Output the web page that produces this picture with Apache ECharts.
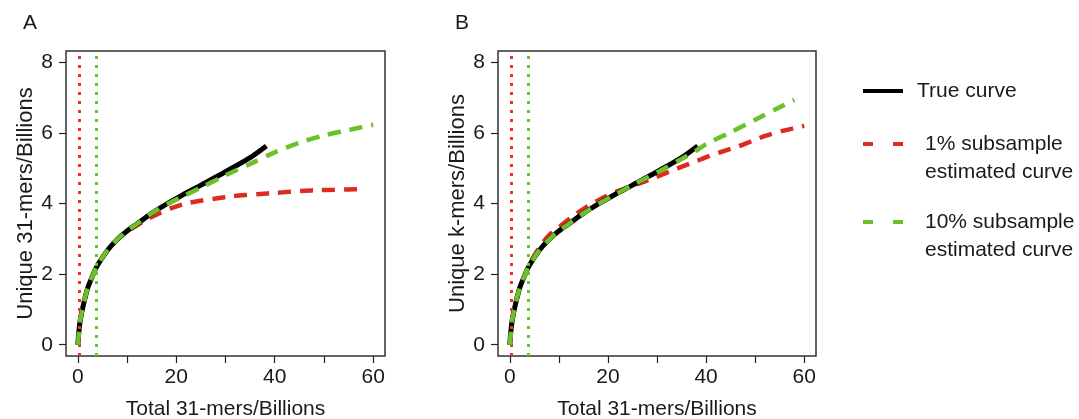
<!DOCTYPE html>
<html>
<head>
<meta charset="utf-8">
<script src="https://cdn.jsdelivr.net/npm/echarts@6/dist/echarts.min.js"></script>
<style>
html,body{margin:0;padding:0;background:#fff;}
#chart{width:1079px;height:419px;}
</style>
</head>
<body>
<div id="chart"></div>
<script>
// ---- data ----
var xTicks = [0, 10, 20, 30, 40, 50, 60];
var xTickLabels = [0, 20, 40, 60];
var yTicks = [0, 2, 4, 6, 8];
var subsample1X = 0.38;   // 1% of total
var subsample10X = 3.83;  // 10% of total

var trueX = [0, 0.25, 0.5, 1, 2, 3, 4, 6, 8, 10, 12, 15, 18, 21, 25, 30, 35, 38.3];
var trueY = [0, 0.42, 0.7, 1.05, 1.6, 1.95, 2.25, 2.67, 2.98, 3.22, 3.42, 3.72, 3.98, 4.22, 4.52, 4.9, 5.3, 5.63];

var aGreenX = [0, 0.5, 1, 2, 3, 4, 6, 8, 10, 12, 15, 18, 21, 25, 30, 35, 40, 45, 50, 55, 60];
var aGreenY = [0, 0.7, 1.05, 1.6, 1.95, 2.25, 2.67, 2.98, 3.22, 3.42, 3.72, 3.97, 4.18, 4.45, 4.8, 5.12, 5.45, 5.72, 5.93, 6.08, 6.23];

var aRedX = [0, 0.5, 1, 2, 3, 4, 6, 8, 10, 12, 14, 16.5, 19, 22, 25, 28, 31, 34, 37, 40, 43, 46, 49, 52, 55, 57.5];
var aRedY = [0, 0.7, 1.05, 1.6, 1.95, 2.25, 2.67, 2.98, 3.2, 3.38, 3.55, 3.72, 3.87, 4.0, 4.08, 4.14, 4.2, 4.24, 4.27, 4.3, 4.33, 4.36, 4.38, 4.39, 4.4, 4.41];

var bGreenX = [0, 0.5, 1, 2, 3, 4, 6, 8, 10, 12, 15, 18, 21, 25, 30, 35, 38, 40, 45, 50, 55, 58];
var bGreenY = [0, 0.7, 1.05, 1.6, 1.95, 2.25, 2.67, 2.98, 3.22, 3.42, 3.72, 3.98, 4.22, 4.52, 4.88, 5.26, 5.5, 5.68, 6.02, 6.37, 6.73, 6.93];

var bRedX = [0, 0.5, 1, 2, 3, 4, 6, 8, 10, 13.5, 16, 19, 21.5, 24.3, 27, 29.8, 32.5, 35.2, 38, 40.6, 43.5, 46.8, 49.5, 52.2, 56, 60];
var bRedY = [0, 0.7, 1.05, 1.6, 1.95, 2.28, 2.75, 3.1, 3.33, 3.7, 3.93, 4.16, 4.32, 4.47, 4.6, 4.75, 4.9, 5.05, 5.2, 5.34, 5.48, 5.63, 5.78, 5.92, 6.07, 6.2];

var seriesNames = ['True curve', '1% subsample estimated curve', '10% subsample estimated curve'];
var legendLabels = {
  'True curve': 'True curve',
  '1% subsample estimated curve': '1% subsample\nestimated curve',
  '10% subsample estimated curve': '10% subsample\nestimated curve'
};

// ---- helpers ----
function pairs(xs, ys) { return xs.map(function (x, i) { return [x, ys[i]]; }); }
var FONT = 'Liberation Sans, Arial, sans-serif';
var TXT = '#1a1a1a';
var RED = '#dc2c22';
var GREEN = '#6cc02a';
var RED_DOT = '#f52a2a';
var GREEN_DOT = '#5ec81e';

function xAxisCfg(gi) {
  return {
    type: 'value', gridIndex: gi, min: -2.4, max: 62.4,
    axisLine: { show: false, onZero: false },
    splitLine: { show: false },
    axisTick: { show: true, inside: false, customValues: xTicks, length: 7, lineStyle: { color: '#222', width: 1.2 } },
    axisLabel: { customValues: xTickLabels, fontSize: 21, fontFamily: FONT, color: TXT, margin: 11 },
    name: 'Total 31-mers/Billions', nameLocation: 'middle', nameGap: 43,
    nameTextStyle: { fontSize: 21, fontFamily: FONT, color: TXT }
  };
}
function yAxisCfg(gi, name) {
  return {
    type: 'value', gridIndex: gi, min: -0.32, max: 8.32,
    axisLine: { show: false, onZero: false },
    splitLine: { show: false },
    axisTick: { show: true, inside: false, customValues: yTicks, length: 7, lineStyle: { color: '#222', width: 1.2 } },
    axisLabel: { customValues: yTicks, fontSize: 21, fontFamily: FONT, color: TXT, margin: 13 },
    name: name, nameLocation: 'middle', nameGap: 28,
    nameTextStyle: { fontSize: 22, fontFamily: FONT, color: TXT }
  };
}
function dottedMark(x, color) {
  return {
    silent: true, symbol: 'none',
    label: { show: false },
    lineStyle: { color: color, type: [3, 6], width: 3, cap: 'butt' },
    data: [{ xAxis: x }]
  };
}
function curve(name, gi, xs, ys, color, dashed, width, z, mark) {
  var s = {
    name: name, type: 'line', xAxisIndex: gi, yAxisIndex: gi,
    data: pairs(xs, ys), showSymbol: false, symbol: 'none',
    smooth: 0.3, z: z,
    lineStyle: { color: color, width: width, type: dashed ? [13, 9] : 'solid', cap: 'butt' },
    itemStyle: { color: color }
  };
  if (mark) s.markLine = mark;
  return s;
}

var series = [];
[0, 1].forEach(function (gi) {
  var rx = gi === 0 ? aRedX : bRedX, ry = gi === 0 ? aRedY : bRedY;
  var gx = gi === 0 ? aGreenX : bGreenX, gy = gi === 0 ? aGreenY : bGreenY;
  series.push(curve(seriesNames[1], gi, rx, ry, RED, true, 4.5, 3, dottedMark(subsample1X, RED_DOT)));
  series.push(curve(seriesNames[0], gi, trueX, trueY, '#000000', false, 5, 4, null));
  series.push(curve(seriesNames[2], gi, gx, gy, GREEN, true, 4.5, 5, dottedMark(subsample10X, GREEN_DOT)));
});

// legend icons: solid bar, and two dashes sitting at the top of a taller box
// so that they line up with the first line of a two-line label
var ICON_SOLID = 'path://M0,0h40v4h-40z';
var ICON_DASH = 'path://M0,0h10v4h-10zM30,0h10v4h-10zM0,31.99h0.01v0.01h-0.01z';

function legendCfg(name, top, padLeft, twoLine, color) {
  return {
    show: true, orient: 'vertical', left: 863, top: top, right: 'auto', bottom: 'auto',
    itemWidth: 40, itemHeight: twoLine ? 32 : 4, selectedMode: false, padding: 0,
    icon: twoLine ? ICON_DASH : ICON_SOLID,
    itemStyle: { color: color, borderWidth: 0 },
    data: [{ name: name }],
    formatter: function (n) { return legendLabels[n]; },
    textStyle: {
      fontSize: 21, fontFamily: FONT, color: TXT, lineHeight: 28,
      padding: [0, 0, 0, padLeft]
    }
  };
}

var option = {
  animation: false,
  backgroundColor: '#ffffff',
  title: [
    { text: 'A', left: 18, top: 8, textStyle: { fontSize: 21, fontWeight: 'normal', fontFamily: FONT, color: TXT } },
    { text: 'B', left: 450, top: 8, textStyle: { fontSize: 21, fontWeight: 'normal', fontFamily: FONT, color: TXT } }
  ],
  grid: [
    { left: 66, top: 51, width: 319, height: 305, show: true, borderColor: '#333', borderWidth: 1.5, backgroundColor: 'transparent', outerBoundsMode: 'none', containLabel: false },
    { left: 498, top: 51, width: 318, height: 305, show: true, borderColor: '#333', borderWidth: 1.5, backgroundColor: 'transparent', outerBoundsMode: 'none', containLabel: false }
  ],
  xAxis: [xAxisCfg(0), xAxisCfg(1)],
  yAxis: [yAxisCfg(0, 'Unique 31-mers/Billions'), yAxisCfg(1, 'Unique k-mers/Billions')],
  legend: [
    legendCfg(seriesNames[0], 77, 9, false, '#000000'),
    legendCfg(seriesNames[1], 130, 17, true, RED),
    legendCfg(seriesNames[2], 208, 17, true, GREEN)
  ],
  series: series
};

var chart = echarts.init(document.getElementById('chart'), null, { renderer: 'canvas' });
chart.setOption(option);
</script>
</body>
</html>
